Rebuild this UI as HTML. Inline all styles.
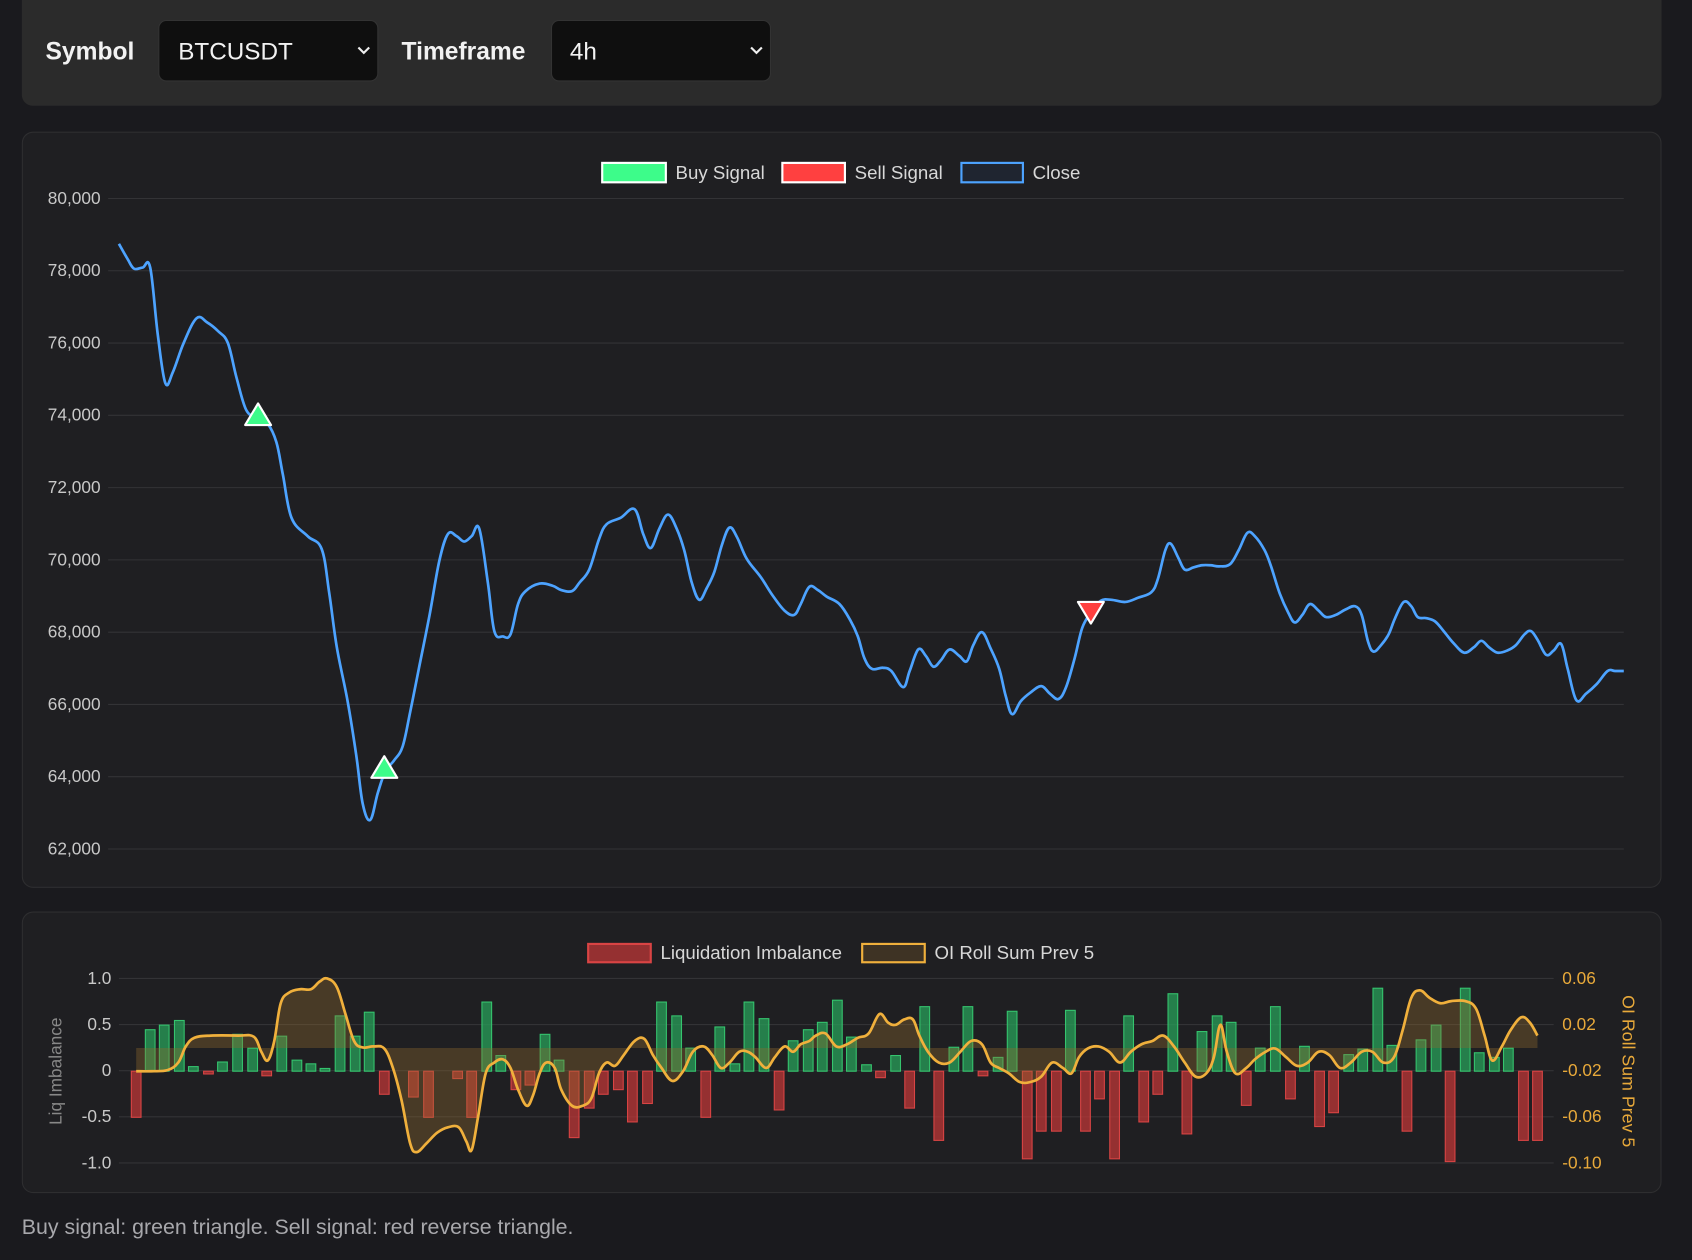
<!DOCTYPE html>
<html><head><meta charset="utf-8"><style>
html,body{margin:0;padding:0;background:#1a1a1e;width:1692px;height:1260px;overflow:hidden}
svg{display:block}
text{font-family:"Liberation Sans",sans-serif}
</style></head><body>
<svg id="s" width="1692" height="1260" viewBox="0 0 1568 1168" xmlns="http://www.w3.org/2000/svg">
<rect x="0" y="0" width="1568" height="1168" fill="#1a1a1e"/>
<rect x="20" y="-10" width="1520" height="108" rx="10" fill="#2b2b2b"/>
<text x="42" y="55" font-size="22.8" font-weight="bold" fill="#f2f2f2">Symbol</text>
<rect x="147" y="19" width="203" height="56" rx="7" fill="#0f0f0f" stroke="#333"/>
<text x="165" y="55" font-size="22.5" fill="#f2f2f2">BTCUSDT</text>
<path d="M332 44 l5 5 l5 -5" stroke="#eee" stroke-width="2" fill="none"/>
<text x="372" y="55" font-size="22.8" font-weight="bold" fill="#f2f2f2">Timeframe</text>
<rect x="511" y="19" width="203" height="56" rx="7" fill="#0f0f0f" stroke="#333"/>
<text x="528" y="55" font-size="22.5" fill="#f2f2f2">4h</text>
<path d="M696 44 l5 5 l5 -5" stroke="#eee" stroke-width="2" fill="none"/>
<rect x="20.5" y="122.5" width="1519" height="700" rx="10" fill="#1f1f22" stroke="#2e2e30"/>
<rect x="558" y="151" width="59" height="18" fill="#3dfc8a" stroke="#fff" stroke-width="2"/>
<text x="626" y="166" font-size="17.3" fill="#d8d8d8">Buy Signal</text>
<rect x="725" y="151" width="58" height="18" fill="#ff4040" stroke="#fff" stroke-width="2"/>
<text x="792" y="166" font-size="17.3" fill="#d8d8d8">Sell Signal</text>
<rect x="891" y="151" width="57" height="18" fill="#1f2530" stroke="#4da3ff" stroke-width="2"/>
<text x="957" y="166" font-size="17.3" fill="#d8d8d8">Close</text>
<g id="g1"></g>
<rect x="20.5" y="845.5" width="1519" height="260" rx="10" fill="#1f1f22" stroke="#2e2e30"/>
<rect x="545" y="875" width="58" height="17" fill="rgba(190,55,55,0.75)" stroke="#d94444" stroke-width="2"/>
<text x="612" y="889" font-size="17.3" fill="#d8d8d8">Liquidation Imbalance</text>
<rect x="799" y="875" width="58" height="17" fill="rgba(120,90,40,0.35)" stroke="#f0b03c" stroke-width="2"/>
<text x="866" y="889" font-size="17.3" fill="#d8d8d8">OI Roll Sum Prev 5</text>
<g id="g2"></g>
<text transform="translate(57,993) rotate(-90)" text-anchor="middle" font-size="16" fill="#888">Liq Imbalance</text>
<text transform="translate(1504,993) rotate(90)" text-anchor="middle" font-size="16.5" fill="#e8a93a">OI Roll Sum Prev 5</text>
<text x="20" y="1144" font-size="19.8" fill="#a8a8ac">Buy signal: green triangle. Sell signal: red reverse triangle.</text>
</svg>
<script>
var NS="http://www.w3.org/2000/svg";
function el(p,t,a){var e=document.createElementNS(NS,t);for(var k in a)e.setAttribute(k,a[k]);p.appendChild(e);return e;}
function smooth(pts){var d="M"+pts[0][0]+" "+pts[0][1];for(var i=0;i<pts.length-1;i++){var p0=pts[i-1]||pts[i],p1=pts[i],p2=pts[i+1],p3=pts[i+2]||p2;var t=0.18;d+=" C"+(p1[0]+(p2[0]-p0[0])*t)+" "+(p1[1]+(p2[1]-p0[1])*t)+" "+(p2[0]-(p3[0]-p1[0])*t)+" "+(p2[1]-(p3[1]-p1[1])*t)+" "+p2[0]+" "+p2[1];}return d;}
var g1=document.getElementById("g1");
var labs=["80,000","78,000","76,000","74,000","72,000","70,000","68,000","66,000","64,000","62,000"];
for(var i=0;i<10;i++){var y=184+i*67;el(g1,"line",{x1:100,x2:1505,y1:y,y2:y,stroke:"#333336","stroke-width":1});var t=el(g1,"text",{x:93,y:y+5,"text-anchor":"end","font-size":16,fill:"#c8c8c8"});t.textContent=labs[i];}
var P=[[110,226],[118,240],[124,249],[132,248],[139,248],[146,310],[153,355],[160,345],[170,318],[182,295],[192,299],[202,307],[211,318],[219,350],[228,380],[238,387],[248,393],[256,410],[262,440],[270,480],[285,497],[298,509],[305,550],[312,600],[322,650],[330,700],[336,745],[343,760],[350,735],[357,715],[365,705],[373,692],[380,660],[388,620],[398,570],[407,520],[415,495],[423,497],[430,502],[437,497],[444,490],[452,540],[458,585],[466,590],[473,588],[480,560],[487,548],[500,541],[512,543],[520,547],[530,548],[537,540],[546,528],[555,500],[562,486],[575,480],[588,472],[596,495],[603,508],[611,490],[619,477],[627,490],[634,510],[641,540],[648,556],[655,545],[662,530],[669,505],[676,489],[683,498],[692,518],[705,535],[716,552],[727,566],[736,570],[742,560],[750,544],[758,547],[766,553],[778,560],[788,575],[795,590],[801,610],[808,620],[818,619],[826,622],[837,637],[843,622],[851,602],[858,608],[865,618],[872,612],[880,602],[889,608],[896,613],[902,598],[910,586],[918,601],[926,620],[932,645],[938,662],[946,650],[955,642],[965,636],[973,643],[981,648],[988,637],[996,610],[1003,582],[1011,568],[1020,557],[1030,556],[1043,558],[1055,554],[1067,549],[1073,537],[1080,510],[1085,504],[1092,517],[1098,528],[1106,526],[1114,524],[1122,524],[1130,525],[1140,523],[1148,510],[1156,494],[1163,497],[1172,510],[1178,525],[1186,550],[1194,568],[1200,577],[1207,570],[1214,560],[1222,566],[1229,572],[1238,570],[1247,565],[1256,562],[1262,570],[1268,595],[1273,604],[1280,598],[1287,588],[1293,573],[1301,558],[1308,562],[1314,572],[1322,573],[1330,576],[1338,585],[1347,596],[1357,605],[1366,600],[1373,594],[1380,600],[1388,605],[1397,603],[1405,598],[1413,588],[1419,585],[1425,593],[1433,607],[1440,603],[1447,597],[1453,620],[1461,649],[1470,643],[1480,634],[1490,622],[1497,622],[1505,622]];
el(g1,"path",{d:smooth(P),fill:"none",stroke:"#4da3ff","stroke-width":2.5,"stroke-linejoin":"round"});
function tri(x,y,up,c){var h=11;var d=up?("M"+x+" "+(y-h)+" L"+(x+12)+" "+(y+h-2)+" L"+(x-12)+" "+(y+h-2)+"Z"):("M"+x+" "+(y+h)+" L"+(x+12)+" "+(y-h+2)+" L"+(x-12)+" "+(y-h+2)+"Z");el(g1,"path",{d:d,fill:c,stroke:"#fff","stroke-width":2,"stroke-linejoin":"round"});}
tri(239,385,true,"#3dfc8a");tri(356,712,true,"#3dfc8a");tri(1011,567,false,"#ff4040");
var g2=document.getElementById("g2");
var L=["1.0","0.5","0","-0.5","-1.0"],R=["0.06","0.02","-0.02","-0.06","-0.10"];
for(var i=0;i<5;i++){var y=907+i*42.75;el(g2,"line",{x1:110,x2:1440,y1:y,y2:y,stroke:"#333336"});var t=el(g2,"text",{x:103,y:y+5,"text-anchor":"end","font-size":16,fill:"#c8c8c8"});t.textContent=L[i];t=el(g2,"text",{x:1448,y:y+5,"font-size":16,fill:"#e8a93a"});t.textContent=R[i];}
var B=[[126,-0.5],[139,0.45],[152,0.5],[166,0.55],[179,0.05],[193,-0.03],[206,0.1],[220,0.4],[234,0.25],[247,-0.05],[261,0.38],[275,0.12],[288,0.08],[301,0.03],[315,0.6],[329,0.38],[342,0.64],[356,-0.25],[369,0],[383,-0.28],[397,-0.5],[410,0],[424,-0.08],[437,-0.5],[451,0.75],[464,0.17],[478,-0.2],[491,-0.15],[505,0.4],[518,0.12],[532,-0.72],[546,-0.4],[559,-0.25],[573,-0.2],[586,-0.55],[600,-0.35],[613,0.75],[627,0.6],[640,0.25],[654,-0.5],[667,0.48],[681,0.08],[694,0.75],[708,0.57],[722,-0.42],[735,0.33],[749,0.45],[762,0.53],[776,0.77],[789,0.37],[803,0.07],[816,-0.07],[830,0.17],[843,-0.4],[857,0.7],[870,-0.75],[884,0.26],[897,0.7],[911,-0.05],[925,0.15],[938,0.65],[952,-0.95],[965,-0.65],[979,-0.65],[992,0.66],[1006,-0.65],[1019,-0.3],[1033,-0.95],[1046,0.6],[1060,-0.55],[1073,-0.25],[1087,0.84],[1100,-0.68],[1114,0.43],[1128,0.6],[1141,0.53],[1155,-0.37],[1168,0.25],[1182,0.7],[1196,-0.3],[1209,0.27],[1223,-0.6],[1236,-0.45],[1250,0.18],[1263,0.24],[1277,0.9],[1290,0.28],[1304,-0.65],[1317,0.34],[1331,0.5],[1344,-0.98],[1358,0.9],[1371,0.2],[1385,0.15],[1398,0.25],[1412,-0.75],[1425,-0.75]];
B.forEach(function(b){if(b[1]==0)return;var h=Math.abs(b[1])*85.5;var y=b[1]>0?993-h:993;var pos=b[1]>0;el(g2,"rect",{x:b[0]-4.5,y:y,width:9,height:h,fill:pos?"rgba(40,160,90,0.75)":"rgba(190,55,55,0.75)",stroke:pos?"#35c46e":"#d94444","stroke-width":1});});
var O=[[126,993],[140,993],[155,992],[165,985],[172,970],[180,962],[195,960],[220,960],[235,961],[242,975],[248,983],[254,965],[260,930],[268,920],[278,917],[288,917],[296,910],[303,907],[312,915],[320,940],[328,965],[336,971],[346,970],[356,972],[364,990],[372,1020],[380,1060],[386,1068],[395,1060],[405,1050],[415,1045],[425,1045],[432,1058],[437,1066],[443,1035],[450,995],[458,985],[466,982],[473,990],[480,1010],[488,1025],[494,1015],[500,995],[506,985],[514,990],[520,1010],[530,1025],[540,1025],[548,1018],[555,995],[562,985],[570,988],[578,978],[588,965],[597,963],[605,978],[613,990],[623,1002],[633,993],[642,975],[652,970],[660,978],[668,990],[676,985],[685,975],[693,975],[700,980],[710,990],[718,980],[727,970],[735,975],[742,968],[750,965],[756,960],[765,958],[775,970],[785,968],[795,962],[805,958],[815,940],[823,948],[830,950],[838,945],[846,945],[852,960],[860,975],[870,985],[880,985],[890,975],[900,965],[910,968],[918,985],[926,990],[935,995],[945,1003],[955,1003],[965,998],[975,985],[985,990],[993,995],[1000,980],[1008,972],[1018,970],[1028,975],[1038,985],[1048,975],[1058,968],[1068,965],[1078,960],[1088,970],[1098,985],[1108,998],[1118,995],[1125,980],[1131,950],[1137,975],[1145,995],[1155,990],[1163,982],[1173,975],[1182,972],[1192,980],[1202,988],[1212,985],[1222,975],[1232,978],[1242,990],[1252,985],[1262,975],[1272,975],[1282,985],[1292,980],[1300,955],[1308,925],[1316,918],[1325,925],[1335,930],[1345,928],[1358,928],[1368,935],[1376,960],[1383,983],[1392,970],[1400,955],[1410,943],[1418,948],[1425,960]];
var d=smooth(O);
el(g2,"path",{d:d+" L1425 971.5 L126 971.5 Z",fill:"rgba(150,110,45,0.35)",stroke:"none"});
el(g2,"path",{d:d,fill:"none",stroke:"#f0b03c","stroke-width":2.5,"stroke-linejoin":"round"});
</script>
</body></html>
